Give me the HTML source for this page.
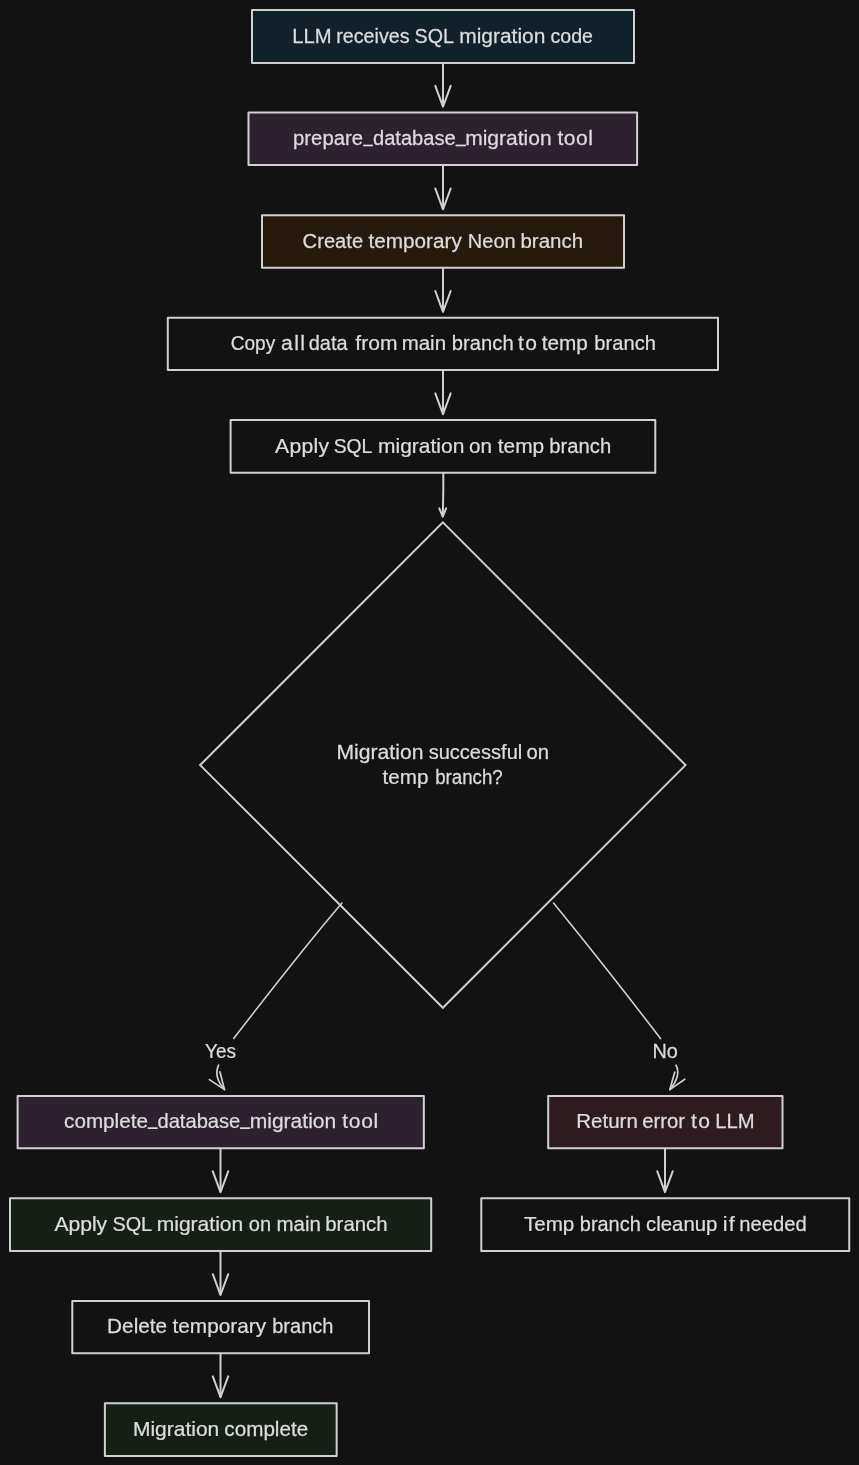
<!DOCTYPE html>
<html><head><meta charset="utf-8"><style>
html,body{margin:0;padding:0;background:#121212;width:859px;height:1465px;overflow:hidden}
svg{display:block;will-change:transform}
text{font-family:"Liberation Sans",sans-serif;font-size:20px;fill:#dcdcdc;stroke:#dcdcdc;stroke-width:0.25px}
</style></head><body>
<svg width="859" height="1465" viewBox="0 0 859 1465">
<rect x="0" y="0" width="859" height="1465" fill="#121212"/>
<rect x="252.0" y="10.0" width="382.0" height="53.0" fill="#10212a" stroke="#d0d0d0" stroke-width="2" stroke-linejoin="round"/>
<rect x="248.5" y="112.6" width="388.6" height="52.3" fill="#2d2130" stroke="#d0d0d0" stroke-width="2" stroke-linejoin="round"/>
<rect x="262.0" y="215.2" width="362.0" height="52.5" fill="#261a0c" stroke="#d0d0d0" stroke-width="2" stroke-linejoin="round"/>
<rect x="167.8" y="317.7" width="550.2" height="52.3" fill="none" stroke="#d0d0d0" stroke-width="2" stroke-linejoin="round"/>
<rect x="230.6" y="420.1" width="424.7" height="52.6" fill="none" stroke="#d0d0d0" stroke-width="2" stroke-linejoin="round"/>
<rect x="17.6" y="1096.0" width="406.25" height="52.2" fill="#2d2130" stroke="#d0d0d0" stroke-width="2" stroke-linejoin="round"/>
<rect x="548.2" y="1096.0" width="234.3" height="52.2" fill="#2c1c1f" stroke="#d0d0d0" stroke-width="2" stroke-linejoin="round"/>
<rect x="10.0" y="1198.3" width="421.2" height="52.7" fill="#161f15" stroke="#d0d0d0" stroke-width="2" stroke-linejoin="round"/>
<rect x="481.3" y="1198.3" width="367.95" height="52.7" fill="none" stroke="#d0d0d0" stroke-width="2" stroke-linejoin="round"/>
<rect x="72.3" y="1301.0" width="296.7" height="52.2" fill="none" stroke="#d0d0d0" stroke-width="2" stroke-linejoin="round"/>
<rect x="104.9" y="1403.2" width="231.75" height="52.7" fill="#161f15" stroke="#d0d0d0" stroke-width="2" stroke-linejoin="round"/>
<path d="M442.85 522.4000000000001 L685.55 765.1 L442.85 1007.8 L200.15000000000003 765.1 Z" fill="none" stroke="#d0d0d0" stroke-width="2" stroke-linejoin="miter"/>
<path d="M443.0 63.0 L443.0 106.69999999999999" stroke="#d0d0d0" stroke-width="2" fill="none"/><path d="M435.3 85.89999999999999 L443.0 106.69999999999999 L450.7 85.89999999999999" stroke="#d0d0d0" stroke-width="2" fill="none" stroke-linecap="round" stroke-linejoin="round"/>
<path d="M443.0 164.9 L443.0 209.29999999999998" stroke="#d0d0d0" stroke-width="2" fill="none"/><path d="M435.3 188.49999999999997 L443.0 209.29999999999998 L450.7 188.49999999999997" stroke="#d0d0d0" stroke-width="2" fill="none" stroke-linecap="round" stroke-linejoin="round"/>
<path d="M443.0 267.7 L443.0 311.8" stroke="#d0d0d0" stroke-width="2" fill="none"/><path d="M435.3 291.0 L443.0 311.8 L450.7 291.0" stroke="#d0d0d0" stroke-width="2" fill="none" stroke-linecap="round" stroke-linejoin="round"/>
<path d="M443.0 370.0 L443.0 414.20000000000005" stroke="#d0d0d0" stroke-width="2" fill="none"/><path d="M435.3 393.40000000000003 L443.0 414.20000000000005 L450.7 393.40000000000003" stroke="#d0d0d0" stroke-width="2" fill="none" stroke-linecap="round" stroke-linejoin="round"/>
<path d="M443.3 472.7 L443.3 490 L442.8 516.7" stroke="#d0d0d0" stroke-width="2" fill="none"/>
<path d="M439.3 508.3 L442.8 516.7 L446.1 508.3" stroke="#d0d0d0" stroke-width="2" fill="none" stroke-linecap="round" stroke-linejoin="round"/>
<path d="M220.5 1148.2 L220.5 1192.1" stroke="#d0d0d0" stroke-width="2" fill="none"/><path d="M212.8 1171.3 L220.5 1192.1 L228.2 1171.3" stroke="#d0d0d0" stroke-width="2" fill="none" stroke-linecap="round" stroke-linejoin="round"/>
<path d="M665.0 1148.2 L665.0 1192.1" stroke="#d0d0d0" stroke-width="2" fill="none"/><path d="M657.3 1171.3 L665.0 1192.1 L672.7 1171.3" stroke="#d0d0d0" stroke-width="2" fill="none" stroke-linecap="round" stroke-linejoin="round"/>
<path d="M220.5 1251.0 L220.5 1295.0" stroke="#d0d0d0" stroke-width="2" fill="none"/><path d="M212.8 1274.2 L220.5 1295.0 L228.2 1274.2" stroke="#d0d0d0" stroke-width="2" fill="none" stroke-linecap="round" stroke-linejoin="round"/>
<path d="M220.5 1353.2 L220.5 1397.2" stroke="#d0d0d0" stroke-width="2" fill="none"/><path d="M212.8 1376.4 L220.5 1397.2 L228.2 1376.4" stroke="#d0d0d0" stroke-width="2" fill="none" stroke-linecap="round" stroke-linejoin="round"/>
<path d="M342 903 C303.5 948, 268.5 993.5, 233.7 1038.5" stroke="#d0d0d0" stroke-width="1.6" fill="none" stroke-linecap="round"/>
<path d="M553.5 903 C590.4 948, 626.1 993.7, 660.7 1038.7" stroke="#d0d0d0" stroke-width="1.6" fill="none" stroke-linecap="round"/>
<path d="M218.6 1065.2 C215.5 1072, 216 1080, 224.5 1089.6" stroke="#d0d0d0" stroke-width="1.7" fill="none" stroke-linecap="round"/>
<path d="M209.4 1079.6 L224.5 1089.6 L219.9 1071.8" stroke="#d0d0d0" stroke-width="1.7" fill="none" stroke-linecap="round" stroke-linejoin="round"/>
<path d="M676 1065.2 C679.5 1072, 678 1080, 669.8 1089.6" stroke="#d0d0d0" stroke-width="1.7" fill="none" stroke-linecap="round"/>
<path d="M684.8 1079.2 L669.8 1089.6 L674.8 1072" stroke="#d0d0d0" stroke-width="1.7" fill="none" stroke-linecap="round" stroke-linejoin="round"/>
<text transform="translate(292.33 42.70) scale(1.0126 1)">LLM</text>
<text transform="translate(336.26 42.70) scale(0.9834 1)">receives</text>
<text transform="translate(414.62 42.70) scale(0.9848 1)">SQL</text>
<text transform="translate(459.24 42.70) scale(1.0475 1)">migration</text>
<text transform="translate(550.47 42.70) scale(0.9799 1)">code</text>
<text transform="translate(293.01 145.00) scale(1.0163 1)">prepare</text>
<rect x="363.10" y="144.60" width="9.80" height="1.7" fill="#dcdcdc"/>
<text transform="translate(372.96 145.00) scale(1.0068 1)">database</text>
<rect x="455.60" y="144.60" width="10.40" height="1.7" fill="#dcdcdc"/>
<text transform="translate(465.16 145.00) scale(1.0515 1)">migration</text>
<text transform="translate(557.38 145.00) scale(1.0499 1)" letter-spacing="0.510">tool</text>
<text transform="translate(302.62 247.80) scale(1.0088 1)">Create</text>
<text transform="translate(368.52 247.80) scale(1.0363 1)">temporary</text>
<text transform="translate(467.81 247.80) scale(1.0010 1)">Neon</text>
<text transform="translate(520.48 247.80) scale(1.0248 1)">branch</text>
<text transform="translate(230.63 350.00) scale(0.9547 1)">Copy</text>
<text transform="translate(280.96 350.00) scale(1.0625 1)" letter-spacing="1.281">all</text>
<text transform="translate(308.78 350.00) scale(0.9968 1)">data</text>
<text transform="translate(355.37 350.00) scale(1.0505 1)">from</text>
<text transform="translate(401.67 350.00) scale(1.0248 1)">main</text>
<text transform="translate(451.85 350.00) scale(1.0106 1)">branch</text>
<text transform="translate(518.05 350.00) scale(1.0479 1)" letter-spacing="1.231">to</text>
<text transform="translate(541.75 350.00) scale(1.0382 1)">temp</text>
<text transform="translate(594.35 350.00) scale(1.0072 1)">branch</text>
<text transform="translate(275.12 453.00) scale(1.0545 1)" letter-spacing="0.267">Apply</text>
<text transform="translate(333.65 453.00) scale(0.9630 1)">SQL</text>
<text transform="translate(378.08 453.00) scale(1.0488 1)">migration</text>
<text transform="translate(469.10 453.00) scale(1.0346 1)">on</text>
<text transform="translate(497.82 453.00) scale(1.0432 1)">temp</text>
<text transform="translate(549.33 453.00) scale(1.0127 1)">branch</text>
<text transform="translate(336.45 759.00) scale(1.0580 1)">Migration</text>
<text transform="translate(428.63 759.00) scale(1.0035 1)">successful</text>
<text transform="translate(526.59 759.00) scale(1.0144 1)">on</text>
<text transform="translate(382.51 783.60) scale(1.0326 1)">temp</text>
<text transform="translate(435.15 783.60) scale(0.9350 1)">branch?</text>
<text transform="translate(205.01 1057.70) scale(0.9493 1)">Yes</text>
<text transform="translate(652.50 1058.00) scale(0.9942 1)">No</text>
<text transform="translate(64.07 1127.70) scale(1.0347 1)">complete</text>
<rect x="147.70" y="1127.30" width="9.90" height="1.7" fill="#dcdcdc"/>
<text transform="translate(157.45 1127.70) scale(1.0073 1)">database</text>
<rect x="239.90" y="1127.30" width="10.30" height="1.7" fill="#dcdcdc"/>
<text transform="translate(249.67 1127.70) scale(1.0535 1)">migration</text>
<text transform="translate(342.35 1127.70) scale(1.0514 1)" letter-spacing="0.608">tool</text>
<text transform="translate(576.28 1128.00) scale(1.0255 1)">Return</text>
<text transform="translate(642.26 1128.00) scale(1.0145 1)">error</text>
<text transform="translate(691.06 1128.00) scale(1.0539 1)" letter-spacing="1.335">to</text>
<text transform="translate(715.35 1128.00) scale(1.0119 1)">LLM</text>
<text transform="translate(54.40 1230.60) scale(1.0549 1)">Apply</text>
<text transform="translate(112.46 1230.60) scale(0.9913 1)">SQL</text>
<text transform="translate(156.68 1230.60) scale(1.0530 1)">migration</text>
<text transform="translate(248.76 1230.60) scale(1.0026 1)">on</text>
<text transform="translate(276.44 1230.60) scale(1.0244 1)">main</text>
<text transform="translate(325.29 1230.60) scale(1.0191 1)">branch</text>
<text transform="translate(523.89 1230.60) scale(1.0309 1)">Temp</text>
<text transform="translate(579.78 1230.60) scale(0.9985 1)">branch</text>
<text transform="translate(646.09 1230.60) scale(1.0170 1)">cleanup</text>
<text transform="translate(722.70 1230.60) scale(1.0772 1)" letter-spacing="1.218">if</text>
<text transform="translate(739.25 1230.60) scale(1.0118 1)">needed</text>
<text transform="translate(107.10 1333.00) scale(1.0382 1)">Delete</text>
<text transform="translate(172.55 1333.00) scale(1.0393 1)">temporary</text>
<text transform="translate(272.19 1333.00) scale(1.0028 1)">branch</text>
<text transform="translate(132.89 1435.60) scale(1.0511 1)">Migration</text>
<text transform="translate(224.35 1435.60) scale(1.0335 1)">complete</text>
</svg>
</body></html>
